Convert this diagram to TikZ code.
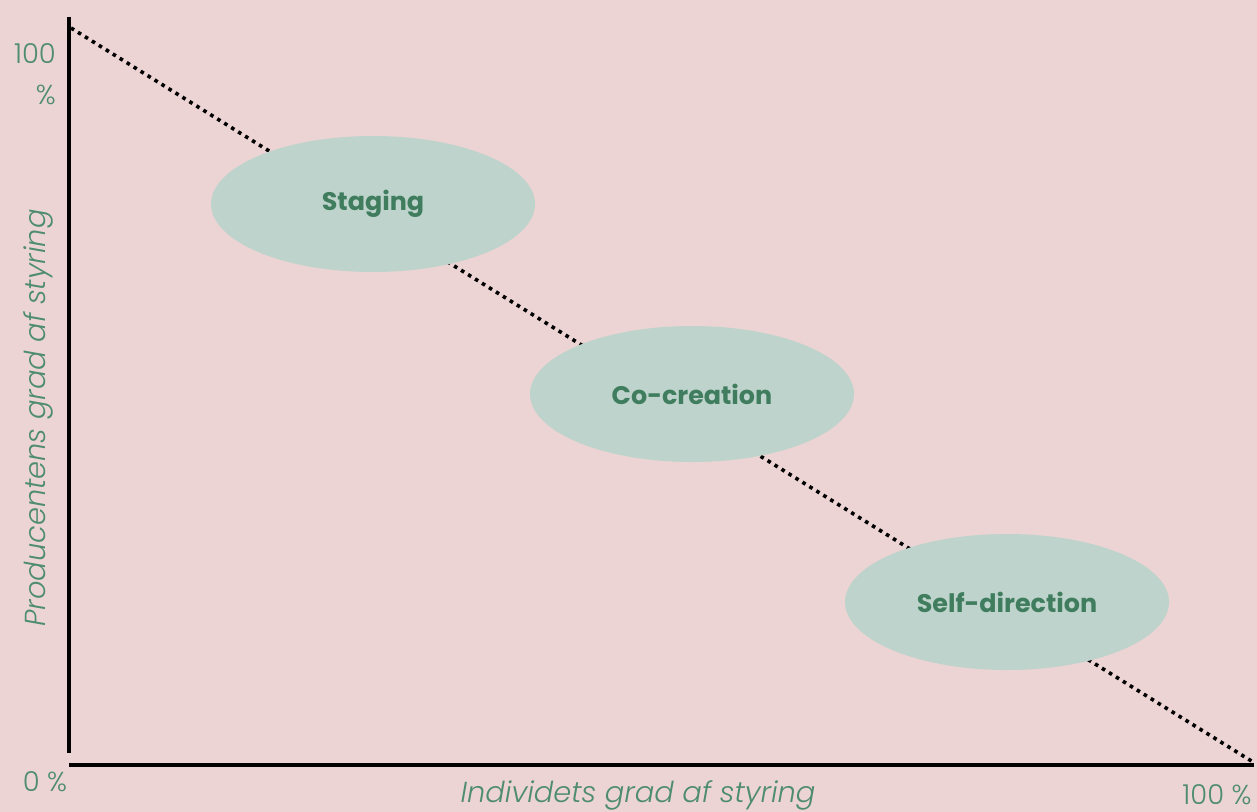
\documentclass[tikz,border=0pt]{standalone}
\usepackage{fontspec}
\setmainfont{Poppins}
\newfontfamily\poplight{Poppins Light}
\usetikzlibrary{shapes.geometric}
\definecolor{bg}{HTML}{EBD4D3}
\definecolor{blob}{HTML}{BDD3CB}
\definecolor{axtxt}{HTML}{4E8C6E}
\definecolor{lbl}{HTML}{3F7D5E}
\begin{document}
\begin{tikzpicture}[x=1bp,y=-1bp,
  blobst/.style={ellipse,fill=blob,minimum width=324bp,minimum height=136bp,inner sep=0,
    font=\fontsize{25.5}{30}\selectfont\bfseries,text=lbl},
  axtext/.style={font=\poplight\fontsize{27.5}{42}\selectfont,text=axtxt,inner sep=0},
  axname/.style={font=\poplight\fontsize{29}{34}\selectfont\itshape,text=axtxt,inner sep=0},
  axis/.style={line width=4bp,black},
  diag/.style={line width=3.6bp,dash pattern=on 3.6bp off 4.6bp,black}]
\fill[bg] (0,0) rectangle (1257,812);
\useasboundingbox (0,0) rectangle (1257,812);
\coordinate (ytop) at (69,17);
\coordinate (ybot) at (69,753);
\coordinate (xl) at (69,765);
\coordinate (xr) at (1254,765);
\coordinate (dstart) at (71,28);
\coordinate (dend) at (1253,762);
\draw[axis] (ytop) -- (ybot);
\draw[axis] (xl) -- (xr);
\draw[diag] (dstart) -- (dend);
\node[blobst] (staging) at (373,204) {Staging};
\node[blobst] (cocreation) at (692,394) {Co-creation};
\node[blobst] (selfdir) at (1007,602) {Self-direction};
\node[axtext,align=right,anchor=base east] (ytoplbl) at (56,105) {100\\\%};
\node[axtext,anchor=center] (zero) at (45,782) {0 \%};
\node[axtext,anchor=center] (xmax) at (1217,795) {100 \%};
\node[axname,anchor=center] (xname) at (638,795) {Individets grad af styring};
\node[axname,anchor=center,rotate=90] (yname) at (38,418) {Producentens grad af styring};
\end{tikzpicture}
\end{document}
